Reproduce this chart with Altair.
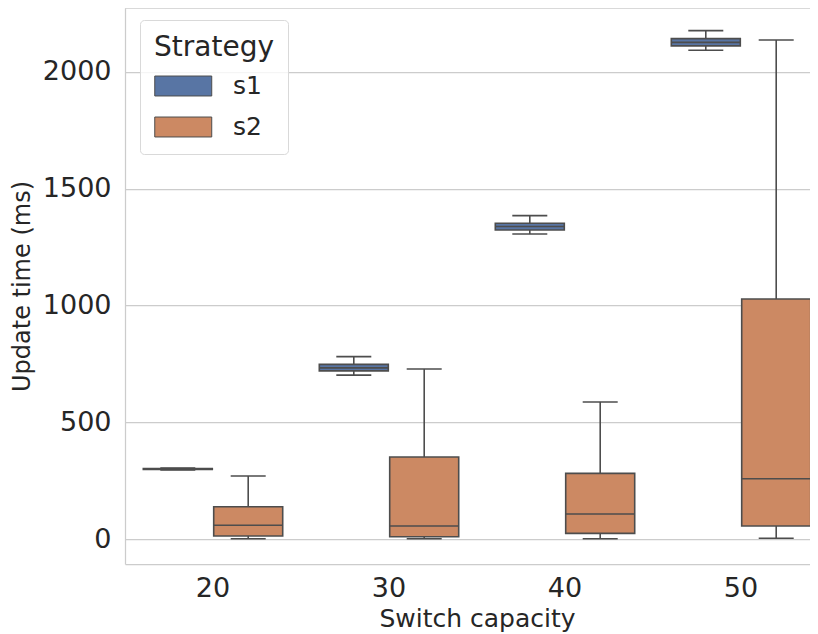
import altair as alt
import pandas as pd

capacity = ["20", "30", "40", "50"]
strategies = ["s1", "s2"]

s1_lo = [296, 702, 1306, 2093]
s1_q1 = [298, 720, 1323, 2112]
s1_med = [300, 733, 1338, 2127]
s1_q3 = [302, 748, 1352, 2143]
s1_hi = [304, 781, 1385, 2177]

s2_lo = [1, 1, 1, 3]
s2_q1 = [13, 10, 24, 56]
s2_med = [59, 56, 107, 258]
s2_q3 = [138, 351, 281, 1028]
s2_hi = [270, 728, 587, 2137]

rows = []
for i, c in enumerate(capacity):
    rows.append(dict(cap=c, strat="s1", lo=s1_lo[i], q1=s1_q1[i], med=s1_med[i], q3=s1_q3[i], hi=s1_hi[i]))
    rows.append(dict(cap=c, strat="s2", lo=s2_lo[i], q1=s2_q1[i], med=s2_med[i], q3=s2_q3[i], hi=s2_hi[i]))
df = pd.DataFrame(rows)

W, H = 685, 556
LINE = "#4d4d4d"
GRID = "#cccccc"
FONT = "DejaVu Sans"

x = alt.X("cap:N", title="Switch capacity", sort=capacity,
          scale=alt.Scale(range=[0, 704], paddingInner=0, paddingOuter=0),
          axis=alt.Axis(labelAngle=0, labelFontSize=27, titleFontSize=25, tickSize=0,
                        labelPadding=11, titlePadding=5, domainColor=GRID, domainWidth=1.25,
                        grid=False))
xo = alt.XOffset("strat:N", sort=strategies,
                 scale=alt.Scale(paddingInner=0, paddingOuter=0.25))

base = alt.Chart(df)

yscale = alt.Scale(domain=[-107, 2274], nice=False, zero=False)
yaxis = alt.Axis(values=[0, 500, 1000, 1500, 2000], format="d", labelFontSize=27,
                 titleFontSize=24, tickSize=0, labelPadding=14, titlePadding=8,
                 grid=True, gridColor=GRID, gridWidth=1.25, domainColor=GRID, domainWidth=1.25)

whisk = base.mark_rule(color=LINE, strokeWidth=1.6).encode(
    x=x, xOffset=xo,
    y=alt.Y("lo:Q", scale=yscale, axis=yaxis, title="Update time (ms)"),
    y2="hi:Q")

box = base.mark_bar(size=69, stroke=LINE, strokeWidth=1.6).encode(
    x=x, xOffset=xo,
    y=alt.Y("q1:Q", scale=yscale), y2="q3:Q",
    color=alt.Color("strat:N", sort=strategies,
                    scale=alt.Scale(domain=strategies, range=["#5875A4", "#CC8963"]),
                    legend=alt.Legend(title="Strategy", orient="none", legendX=15, legendY=12)))

med = base.mark_tick(size=69, thickness=1.6, color=LINE, opacity=1).encode(
    x=x, xOffset=xo, y=alt.Y("med:Q", scale=yscale))
cap_lo = base.mark_tick(size=35, thickness=1.6, color=LINE, opacity=1).encode(
    x=x, xOffset=xo, y=alt.Y("lo:Q", scale=yscale))
cap_hi = base.mark_tick(size=35, thickness=1.6, color=LINE, opacity=1).encode(
    x=x, xOffset=xo, y=alt.Y("hi:Q", scale=yscale))

top = alt.Chart(pd.DataFrame({"a": [0]})).mark_rule(color=GRID, strokeWidth=1.25).encode(
    y=alt.value(0), x=alt.value(0), x2=alt.value(W))

chart = alt.layer(whisk, box, med, cap_lo, cap_hi, top).properties(
    width=W, height=H,
    autosize=alt.AutoSizeParams(type="none"),
    padding={"left": 117, "top": 0, "right": 0, "bottom": 70},
).configure(font=FONT).configure_view(stroke=None).configure_axis(
    labelColor="#262626", titleColor="#262626", labelFont=FONT, titleFont=FONT,
    titleFontWeight="normal"
).configure_legend(
    titleFontSize=28, labelFontSize=25, titleFontWeight="normal", titleColor="#262626",
    labelColor="#262626", padding=14, cornerRadius=4, strokeColor="#d9d9d9",
    fillColor="rgba(255,255,255,0.8)", symbolType="M-1,-0.7H3V0.7H-1Z",
    symbolSize=812, symbolStrokeColor=LINE, symbolStrokeWidth=1, symbolOpacity=1,
    titlePadding=9, rowPadding=13, labelOffset=49, titleFont=FONT, labelFont=FONT
)

chart.save("out.html", embed_options={"renderer": "svg", "actions": False})
